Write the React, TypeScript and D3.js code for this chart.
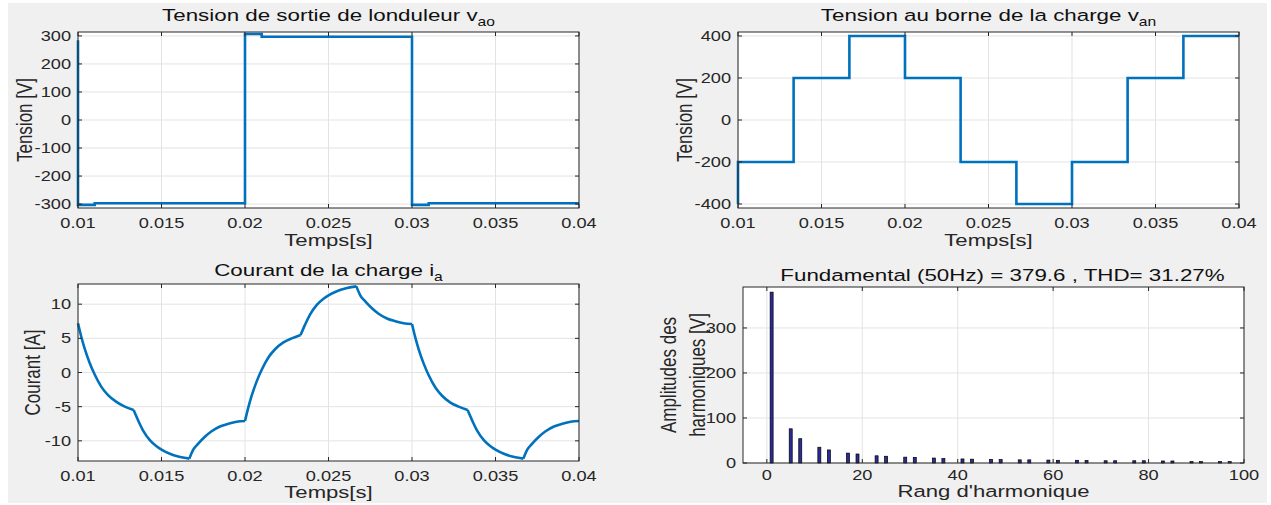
import React from 'react';
import * as d3 from 'd3';

// ---------- data ----------
const timeTicks = [0.01, 0.015, 0.02, 0.025, 0.03, 0.035, 0.04];
const timeTickLabels = ['0.01', '0.015', '0.02', '0.025', '0.03', '0.035', '0.04'];
const vaoTicks = [-300, -200, -100, 0, 100, 200, 300];
const vanTicks = [-400, -200, 0, 200, 400];
const iaTicks = [-10, -5, 0, 5, 10];
const harmXTicks = [0, 20, 40, 60, 80, 100];
const harmYTicks = [0, 100, 200, 300];

// inverter output voltage v_ao (step series)
const vaoTime = [0.01, 0.01, 0.011, 0.02, 0.021, 0.03, 0.031, 0.04];
const vaoValue = [285, -303, -297, 307, 297, -303, -297, -297];

// load voltage v_an (six-step)
const vanTime = [0.01, 0.01, 0.01333, 0.01667, 0.02, 0.02333, 0.02667, 0.03, 0.03333, 0.03667, 0.04];
const vanValue = [-400, -200, 200, 400, 200, -200, -400, -200, 200, 400, 400];

// load current i_a
const iaBreaks = [0.01, 0.01333, 0.01667, 0.02, 0.02333, 0.02667, 0.03, 0.03333, 0.03667, 0.04];
const iaTime = [
  0.01, 0.0102, 0.0104, 0.0107, 0.011, 0.0114, 0.0118, 0.0123, 0.0128, 0.01333,
  0.0136, 0.0139, 0.0143, 0.0147, 0.015, 0.0155, 0.016, 0.01667,
  0.0169, 0.0172, 0.0176, 0.018, 0.0185, 0.019, 0.0195, 0.02,
  0.0202, 0.0204, 0.0207, 0.021, 0.0214, 0.0218, 0.0223, 0.0228, 0.02333,
  0.0236, 0.0239, 0.0243, 0.0247, 0.025, 0.0255, 0.026, 0.02667,
  0.0269, 0.0272, 0.0276, 0.028, 0.0285, 0.029, 0.0295, 0.03,
  0.0302, 0.0304, 0.0307, 0.031, 0.0314, 0.0318, 0.0323, 0.0328, 0.03333,
  0.0336, 0.0339, 0.0343, 0.0347, 0.035, 0.0355, 0.036, 0.03667,
  0.0369, 0.0372, 0.0376, 0.038, 0.0385, 0.039, 0.0395, 0.04,
];
const iaValue = [
  7.2, 5.2, 3.5, 1.4, -0.3, -2.1, -3.3, -4.3, -5.0, -5.5,
  -7.0, -8.5, -9.9, -10.8, -11.3, -11.9, -12.3, -12.6,
  -11.3, -10.4, -9.4, -8.6, -7.9, -7.5, -7.2, -7.1,
  -5.1, -3.4, -1.3, 0.4, 2.2, 3.4, 4.4, 5.0, 5.5,
  7.0, 8.5, 9.9, 10.8, 11.3, 11.9, 12.3, 12.6,
  11.3, 10.4, 9.4, 8.6, 7.9, 7.5, 7.2, 7.1,
  5.1, 3.4, 1.3, -0.4, -2.2, -3.4, -4.4, -5.0, -5.5,
  -7.0, -8.5, -9.9, -10.8, -11.3, -11.9, -12.3, -12.6,
  -11.3, -10.4, -9.4, -8.6, -7.9, -7.5, -7.2, -7.1,
];

// harmonic spectrum of v_an
const harmOrder = [1, 5, 7, 11, 13, 17, 19, 23, 25, 29, 31, 35, 37, 41, 43, 47, 49, 53, 55, 59, 61, 65, 67, 71, 73, 77, 79, 83, 85, 89, 91, 95, 97];
const harmAmp = [379.6, 76, 54, 35, 29, 22, 20, 16, 15, 13, 12.5, 11, 10, 9, 8.5, 8, 7.5, 7, 7, 6.5, 6, 6, 5.5, 5, 5, 5, 5, 4.5, 4.5, 3, 3, 3, 3];

// ---------- style ----------
const W = 1271;
const H = 505;
const SX = 1.3; // horizontal stretch of text seen in reference
const FONT = '"Liberation Sans", Arial, Helvetica, sans-serif';
const AXIS = '#262626';
const GRID = '#e3e3e3';
const LINE = '#0072BD';
const TICK_FS = 14;
const LABEL_FS = 17;
const TITLE_FS = 17.2;
const LW = 2.6;

type TxtProps = {
  x: number; y: number; anchor?: string; size: number; rot?: boolean; fill?: string;
  dy?: string; children: React.ReactNode;
};
function Txt({ x, y, anchor = 'middle', size, rot, fill = AXIS, dy, children }: TxtProps) {
  return (
    <text
      transform={`translate(${x},${y}) scale(${SX},1)${rot ? ' rotate(-90)' : ''}`}
      textAnchor={anchor}
      fontSize={size}
      fontFamily={FONT}
      fill={fill}
      dy={dy}
    >
      {children}
    </text>
  );
}

type Box = { x0: number; x1: number; y0: number; y1: number };
type Sc = d3.ScaleLinear<number, number>;

function Grid({ box, xs, ys, xTicks, yTicks }: { box: Box; xs: Sc; ys: Sc; xTicks: number[]; yTicks: number[] }) {
  return (
    <g>
      <rect x={box.x0} y={box.y0} width={box.x1 - box.x0} height={box.y1 - box.y0} fill="#ffffff" />
      {xTicks.map((t) => (
        <line key={'gx' + t} x1={xs(t)} x2={xs(t)} y1={box.y0} y2={box.y1} stroke={GRID} strokeWidth={1} />
      ))}
      {yTicks.map((t) => (
        <line key={'gy' + t} x1={box.x0} x2={box.x1} y1={ys(t)} y2={ys(t)} stroke={GRID} strokeWidth={1} />
      ))}
    </g>
  );
}

function Axes({ box, xs, ys, xTicks, yTicks, xLabels, yLabels, xLabY }: {
  box: Box; xs: Sc; ys: Sc; xTicks: number[]; yTicks: number[]; xLabels: string[]; yLabels: string[]; xLabY: number;
}) {
  const tl = 4;
  return (
    <g>
      <rect x={box.x0} y={box.y0} width={box.x1 - box.x0} height={box.y1 - box.y0} fill="none" stroke={AXIS} strokeWidth={1} />
      {xTicks.map((t) => (
        <g key={'tx' + t}>
          <line x1={xs(t)} x2={xs(t)} y1={box.y1} y2={box.y1 - tl} stroke={AXIS} />
          <line x1={xs(t)} x2={xs(t)} y1={box.y0} y2={box.y0 + tl} stroke={AXIS} />
        </g>
      ))}
      {yTicks.map((t) => (
        <g key={'ty' + t}>
          <line x1={box.x0} x2={box.x0 + tl} y1={ys(t)} y2={ys(t)} stroke={AXIS} />
          <line x1={box.x1} x2={box.x1 - tl} y1={ys(t)} y2={ys(t)} stroke={AXIS} />
        </g>
      ))}
      {xTicks.map((t, i) => (
        <Txt key={'lx' + t} x={xs(t)} y={xLabY} size={TICK_FS}>{xLabels[i]}</Txt>
      ))}
      {yTicks.map((t, i) => (
        <Txt key={'ly' + t} x={box.x0 - 7} y={ys(t)} anchor="end" dy="0.36em" size={TICK_FS}>{yLabels[i]}</Txt>
      ))}
    </g>
  );
}

export default function App() {
  // layout
  const boxTL: Box = { x0: 78, x1: 579, y0: 32, y1: 208 };
  const boxTR: Box = { x0: 738, x1: 1239, y0: 32, y1: 208 };
  const boxBL: Box = { x0: 78, x1: 579, y0: 284, y1: 461 };
  const boxBR: Box = { x0: 743, x1: 1244, y0: 287, y1: 463 };

  const tDomain = [0.01, 0.04];
  const xTL = d3.scaleLinear().domain(tDomain).range([boxTL.x0, boxTL.x1]);
  const yTL = d3.scaleLinear().domain([-314, 314]).range([boxTL.y1, boxTL.y0]);
  const xTR = d3.scaleLinear().domain(tDomain).range([boxTR.x0, boxTR.x1]);
  const yTR = d3.scaleLinear().domain([-419, 419]).range([boxTR.y1, boxTR.y0]);
  const xBL = d3.scaleLinear().domain(tDomain).range([boxBL.x0, boxBL.x1]);
  const yBL = d3.scaleLinear().domain([-12.95, 12.95]).range([boxBL.y1, boxBL.y0]);
  const xBR = d3.scaleLinear().domain([-5, 100]).range([boxBR.x0, boxBR.x1]);
  const yBR = d3.scaleLinear().domain([0, 391]).range([boxBR.y1, boxBR.y0]);

  const vaoPts = vaoTime.map((t, i) => [t, vaoValue[i]] as [number, number]);
  const vanPts = vanTime.map((t, i) => [t, vanValue[i]] as [number, number]);
  const iaPts = iaTime.map((t, i) => [t, iaValue[i]] as [number, number]);

  const vaoPath = d3.line<[number, number]>().x((d) => xTL(d[0])).y((d) => yTL(d[1])).curve(d3.curveStepAfter)(vaoPts) || '';
  const vanPath = d3.line<[number, number]>().x((d) => xTR(d[0])).y((d) => yTR(d[1])).curve(d3.curveStepAfter)(vanPts) || '';
  const iaLine = d3.line<[number, number]>().x((d) => xBL(d[0])).y((d) => yBL(d[1])).curve(d3.curveMonotoneX);
  const iaPath = iaBreaks.slice(0, -1).map((a, k) => {
    const b = iaBreaks[k + 1];
    const seg = iaPts.filter((p) => p[0] >= a - 1e-9 && p[0] <= b + 1e-9);
    return iaLine(seg) || '';
  }).join('');

  const vaoLabels = vaoTicks.map(String);
  const vanLabels = vanTicks.map(String);
  const iaLabels = iaTicks.map(String);
  const hxLabels = harmXTicks.map(String);
  const hyLabels = harmYTicks.map(String);
  const barW = 3;

  return (
    <svg width={W} height={H} style={{ position: 'absolute', left: 0, top: 0, display: 'block' }}>
      <rect x={0} y={0} width={W} height={H} fill="#ffffff" />
      <rect x={8} y={3} width={W - 12} height={H - 5} fill="#f0f0f0" />

      {/* Top-left */}
      <Grid box={boxTL} xs={xTL} ys={yTL} xTicks={timeTicks} yTicks={vaoTicks} />
      <path d={vaoPath} fill="none" stroke={LINE} strokeWidth={LW} />
      <Axes box={boxTL} xs={xTL} ys={yTL} xTicks={timeTicks} yTicks={vaoTicks} xLabels={timeTickLabels} yLabels={vaoLabels} xLabY={228} />
      <Txt x={(boxTL.x0 + boxTL.x1) / 2} y={21} size={TITLE_FS} fill="#111">
        Tension de sortie de londuleur v<tspan fontSize={12} dy={5}>ao</tspan>
      </Txt>
      <Txt x={(boxTL.x0 + boxTL.x1) / 2} y={246} size={LABEL_FS}>Temps[s]</Txt>
      <Txt x={32} y={(boxTL.y0 + boxTL.y1) / 2} size={LABEL_FS} rot>Tension [V]</Txt>

      {/* Top-right */}
      <Grid box={boxTR} xs={xTR} ys={yTR} xTicks={timeTicks} yTicks={vanTicks} />
      <path d={vanPath} fill="none" stroke={LINE} strokeWidth={LW} />
      <Axes box={boxTR} xs={xTR} ys={yTR} xTicks={timeTicks} yTicks={vanTicks} xLabels={timeTickLabels} yLabels={vanLabels} xLabY={228} />
      <Txt x={(boxTR.x0 + boxTR.x1) / 2} y={21} size={TITLE_FS} fill="#111">
        Tension au borne de la charge v<tspan fontSize={12} dy={5}>an</tspan>
      </Txt>
      <Txt x={(boxTR.x0 + boxTR.x1) / 2} y={246} size={LABEL_FS}>Temps[s]</Txt>
      <Txt x={692} y={(boxTR.y0 + boxTR.y1) / 2} size={LABEL_FS} rot>Tension [V]</Txt>

      {/* Bottom-left */}
      <Grid box={boxBL} xs={xBL} ys={yBL} xTicks={timeTicks} yTicks={iaTicks} />
      <path d={iaPath} fill="none" stroke={LINE} strokeWidth={LW} strokeLinejoin="round" />
      <Axes box={boxBL} xs={xBL} ys={yBL} xTicks={timeTicks} yTicks={iaTicks} xLabels={timeTickLabels} yLabels={iaLabels} xLabY={481} />
      <Txt x={(boxBL.x0 + boxBL.x1) / 2} y={276} size={TITLE_FS} fill="#111">
        Courant de la charge i<tspan fontSize={12} dy={5}>a</tspan>
      </Txt>
      <Txt x={(boxBL.x0 + boxBL.x1) / 2} y={498} size={LABEL_FS}>Temps[s]</Txt>
      <Txt x={40} y={(boxBL.y0 + boxBL.y1) / 2} size={LABEL_FS} rot>Courant [A]</Txt>

      {/* Bottom-right */}
      <Grid box={boxBR} xs={xBR} ys={yBR} xTicks={harmXTicks} yTicks={harmYTicks} />
      {harmOrder.map((h, i) => (
        <rect key={'b' + h} x={xBR(h) - barW / 2} y={yBR(harmAmp[i])} width={barW} height={yBR(0) - yBR(harmAmp[i])}
          fill="#2b2b9a" stroke="#000" strokeWidth={0.7} />
      ))}
      <Axes box={boxBR} xs={xBR} ys={yBR} xTicks={harmXTicks} yTicks={harmYTicks} xLabels={hxLabels} yLabels={hyLabels} xLabY={480} />
      <Txt x={(boxBR.x0 + boxBR.x1) / 2 + 9} y={281} size={TITLE_FS} fill="#111">
        Fundamental (50Hz) = 379.6 , THD= 31.27%
      </Txt>
      <Txt x={(boxBR.x0 + boxBR.x1) / 2} y={497} size={LABEL_FS}>Rang d'harmonique</Txt>
      <Txt x={676} y={(boxBR.y0 + boxBR.y1) / 2} size={LABEL_FS} rot>Amplitudes des</Txt>
      <Txt x={705} y={(boxBR.y0 + boxBR.y1) / 2} size={LABEL_FS} rot>harmoniques [V]</Txt>
    </svg>
  );
}
